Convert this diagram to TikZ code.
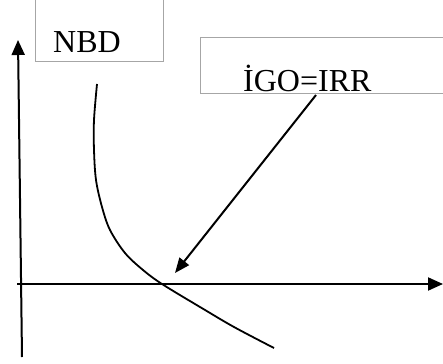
\documentclass[tikz,border=0pt]{standalone}
\usepackage{fontspec}
\setmainfont{Liberation Serif}
\usetikzlibrary{arrows.meta}
\begin{document}
\begin{tikzpicture}[x=1pt,y=-1pt,
  labelbox/.style={draw=black!35,line width=0.8pt,inner sep=0pt,anchor=north west},
  labeltext/.style={inner sep=0pt,anchor=base west,font=\fontsize{32}{38}\selectfont},
  axis/.style={line width=2pt,-{Triangle[length=15pt,width=13pt]}},
  pointer/.style={line width=2pt,-{Triangle[length=15pt,width=12pt]}},
  curveline/.style={line width=1.8pt}]
\useasboundingbox (0,0) rectangle (443,363);
\clip (0,0) rectangle (443,363);

% label boxes
\node[labelbox,minimum width=128pt,minimum height=72pt] (nbdbox) at (35,-11) {};
\node[labelbox,minimum width=260pt,minimum height=56pt] (irrbox) at (200,37) {};
\node[labeltext] (nbd) at (53,53) {NBD};
\node[labeltext] (irr) at (243,92) {İGO=IRR};

% axes
\coordinate (origin) at (17,284);
\coordinate (ybot) at (22,357);
\coordinate (ytop) at (18,40);
\coordinate (xend) at (443,284);
\draw[axis] (ybot) -- (ytop);
\draw[axis] (origin) -- (xend);

% NPV curve
\coordinate (cross) at (162,284);
\draw[curveline] plot[smooth,tension=0.55] coordinates
  {(97,84) (94,120) (94,150) (96,180) (102,207) (110,230) (125,253) (143,270) (cross)
   (200,307) (234,327) (274,348)};

% pointer to the root
\coordinate (pstart) at (316,95);
\coordinate (ptip) at (175,273);
\draw[pointer] (pstart) -- (ptip);
\end{tikzpicture}
\end{document}
